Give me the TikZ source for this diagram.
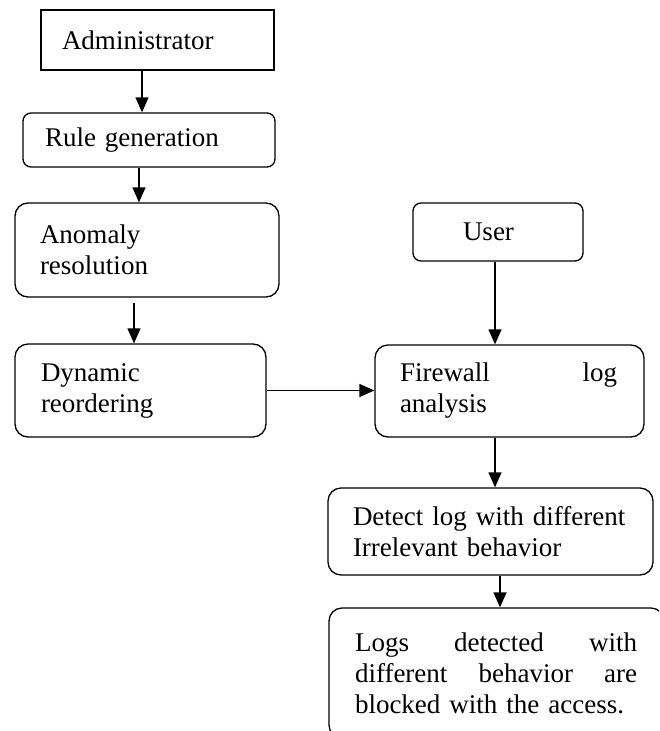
\documentclass[tikz,border=0pt]{standalone}
\usepackage{fontspec}
\setmainfont{Liberation Serif}
\usetikzlibrary{arrows.meta}
\begin{document}
\begin{tikzpicture}[x=1pt,y=-1pt,
  every node/.style={font=\fontsize{27}{31}\selectfont},
  box/.style={draw, line width=1.3pt, align=left, inner ysep=0pt, anchor=center},
  sbox/.style={box},
  rbox/.style={box, rounded corners=13pt},
  rsbox/.style={box, rounded corners=8pt},
  arr/.style={draw, line width=1.3pt, -{Triangle[length=15pt,width=13pt]}}
]
\useasboundingbox (0,0) rectangle (659,731);
\fill[white] (0,0) rectangle (659,731);
\clip (0,0) rectangle (659,731);

\node[sbox, minimum width=233pt, minimum height=60pt, inner xsep=21pt, text width=191pt] (admin) at (157.5,40) {Administrator};
\node[rsbox, minimum width=252pt, minimum height=54pt, inner xsep=22pt, text width=208pt] (rule) at (149,140) {Rule generation};
\node[rbox, minimum width=264pt, minimum height=94pt, inner xsep=25pt, text width=214pt] (anom) at (147,250) {Anomaly\\resolution};
\node[rbox, minimum width=251pt, minimum height=93pt, inner xsep=26pt, text width=199pt] (dyn) at (140.5,390.5) {Dynamic\\reordering};
\node[rsbox, minimum width=170pt, minimum height=58pt, inner xsep=50pt, text width=70pt] (user) at (498,232) {User};
\node[rbox, minimum width=269pt, minimum height=92pt, inner xsep=25pt, text width=219pt] (fw) at (509.5,391) {\makebox[217pt][s]{Firewall\hfill log}\\analysis};
\node[rbox, minimum width=325pt, minimum height=87pt, inner xsep=25pt, text width=275pt] (det) at (490.5,531.5) {Detect log with different\\Irrelevant behavior};
\node[rbox, minimum width=335pt, minimum height=130pt, inner xsep=26pt, text width=283pt] (logs) at (496.5,673) {\makebox[282pt][s]{Logs\hfill detected\hfill with}\\\makebox[282pt][s]{different\hfill behavior\hfill are}\\blocked with the access.};

\draw[arr] ([xshift=-15.5pt]admin.south) -- ([xshift=-15.5pt]admin.south |- rule.north);
\draw[arr] ([xshift=-10pt]rule.south) -- ([xshift=-10pt]rule.south |- anom.north);
\draw[arr, shorten <=5pt] ([xshift=-13pt]anom.south) -- ([xshift=-13pt]anom.south |- dyn.north);
\draw[arr] ([xshift=-3pt]user.south) -- ([xshift=-3pt]user.south |- fw.north);
\draw[arr] (dyn.east) -- (dyn.east -| fw.west);
\draw[arr] ([xshift=-14.5pt]fw.south) -- ([xshift=-14.5pt]fw.south |- det.north);
\draw[arr] ([xshift=9.5pt]det.south) -- ([xshift=9.5pt]det.south |- logs.north);
\end{tikzpicture}
\end{document}
